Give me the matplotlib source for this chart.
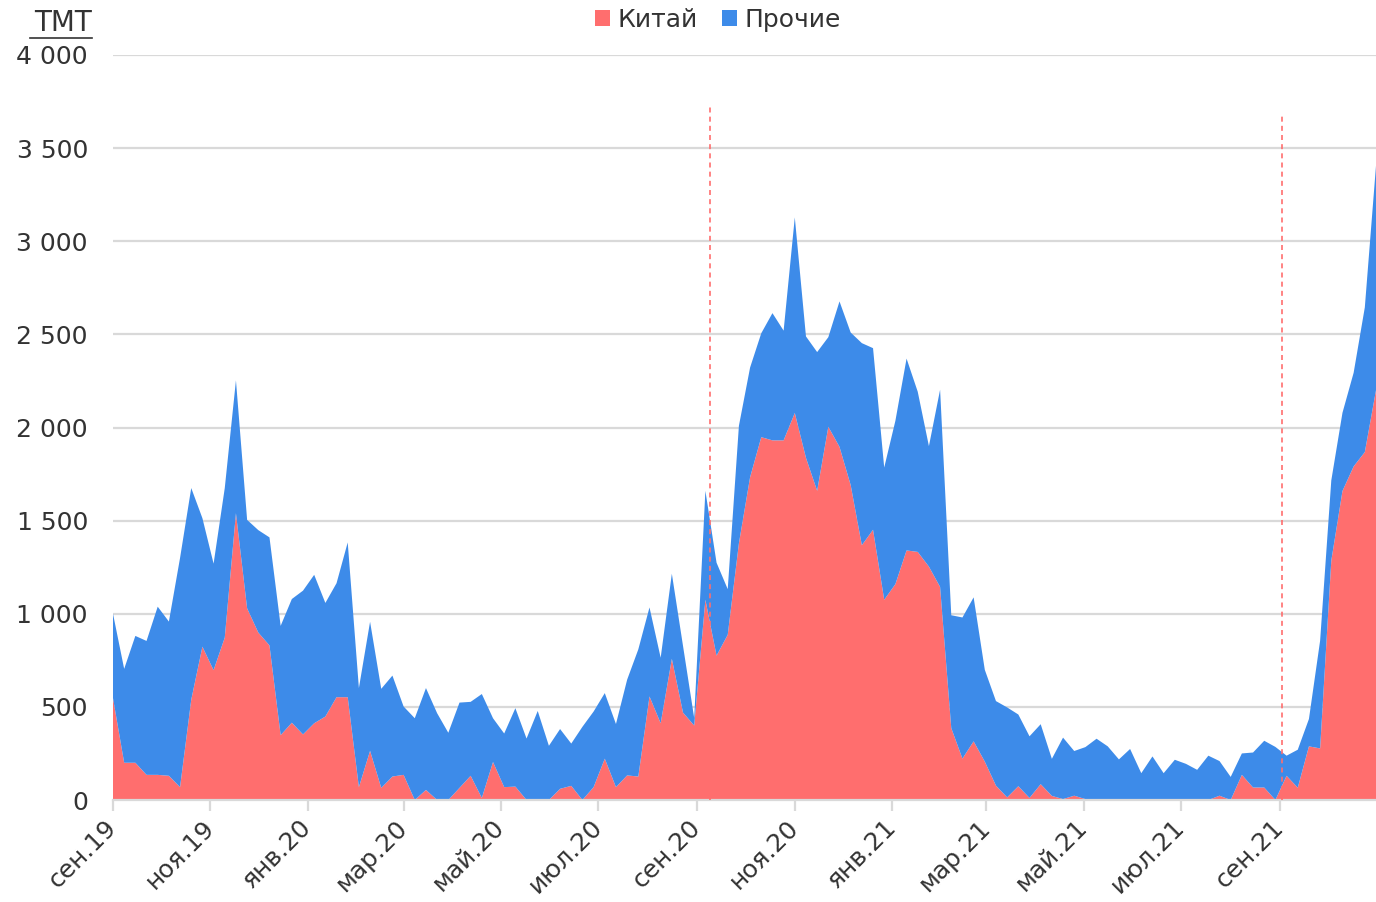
import numpy as np
import pandas as pd
import matplotlib
matplotlib.use("Agg")
import matplotlib.pyplot as plt
from matplotlib.lines import Line2D
from matplotlib.ticker import FuncFormatter

plt.rcParams['font.family'] = ['DejaVu Sans']

# weekly data, тыс. тонн
weeks = pd.date_range('2019-09-01', periods=114, freq='7D')

china = [547, 200, 200, 135, 135, 130, 69, 538, 823, 697,
         872, 1540, 1029, 899, 830, 348, 415, 352, 412, 448,
         552, 552, 69, 264, 65, 126, 135, 0, 54, 0,
         0, 65, 130, 11, 204, 69, 72, 0, 0, 0,
         60, 76, 0, 69, 222, 69, 132, 126, 556, 412,
         758, 469, 400, 1075, 775, 887, 1378, 1733, 1948, 1931,
         1931, 2078, 1837, 1660, 2004, 1896, 1691, 1368, 1451, 1075,
         1159, 1340, 1332, 1253, 1144, 386, 222, 315, 206, 77,
         14, 74, 11, 85, 22, 5, 23, 5, 2, 5,
         4, 2, 0, 0, 0, 0, 0, 0, 0, 23,
         0, 135, 67, 67, 0, 130, 66, 288, 277, 1285,
         1659, 1791, 1868, 2200]

other = [453, 504, 681, 719, 903, 828, 1231, 1137, 690, 572,
         803, 713, 475, 550, 580, 587, 664, 772, 797, 610,
         612, 831, 532, 693, 532, 542, 367, 439, 547, 466,
         361, 458, 397, 558, 235, 288, 421, 330, 478, 291,
         321, 227, 393, 406, 352, 339, 514, 683, 478, 352,
         457, 358, 40, 585, 499, 245, 631, 589, 558, 683,
         589, 1050, 652, 745, 481, 781, 819, 1085, 975, 710,
         877, 1030, 860, 647, 1059, 606, 758, 773, 493, 454,
         483, 385, 331, 322, 199, 330, 240, 279, 327, 283,
         214, 272, 144, 234, 144, 216, 194, 162, 238, 186,
         124, 115, 188, 251, 285, 108, 204, 147, 578, 431,
         420, 503, 777, 1205]

tick_dates = pd.to_datetime(['2019-09-01', '2019-11-01', '2020-01-01', '2020-03-01',
                             '2020-05-01', '2020-07-01', '2020-09-01', '2020-11-01',
                             '2021-01-01', '2021-03-01', '2021-05-01', '2021-07-01',
                             '2021-09-01'])
tick_labels = ['сен.19', 'ноя.19', 'янв.20', 'мар.20', 'май.20', 'июл.20', 'сен.20',
               'ноя.20', 'янв.21', 'мар.21', 'май.21', 'июл.21', 'сен.21']

# season markers (dashed red lines)
markers = pd.to_datetime(['2020-09-09', '2021-09-02'])
marker_tops = [3730, 3680]

RED = '#ff6e6e'
BLUE = '#3d8be9'
GRID = '#d9d9d9'

fig = plt.figure(figsize=(13.76, 9.02), dpi=100)
ax = fig.add_axes([113/1376, 102/902, 1 - 113/1376, 745/902])

ax.stackplot(weeks, china, other, colors=[RED, BLUE], labels=['Китай', 'Прочие'],
             linewidth=0)

for d, top in zip(markers, marker_tops):
    ax.plot([d, d], [0, top], color=RED, lw=1.2, ls=(0, (3, 2.5)), clip_on=False, zorder=3)

ax.set_xlim(weeks[0], weeks[-1])
ax.set_ylim(0, 4000)
ax.set_yticks(np.arange(0, 4001, 500))
ax.yaxis.set_major_formatter(FuncFormatter(lambda v, p: f'{int(v):,}'.replace(',', ' ')))
ax.grid(axis='y', color=GRID, lw=1.6)
ax.set_axisbelow(True)

ax.set_xticks(tick_dates)
ax.set_xticklabels(tick_labels, rotation=45, ha='right', va='center', rotation_mode='anchor')
ax.tick_params(axis='x', length=8, width=1.6, color=GRID, labelsize=18, pad=9, labelcolor='#333333')
ax.tick_params(axis='y', length=0, labelsize=18, pad=18, labelcolor='#333333')

for s in ['top', 'right', 'left']:
    ax.spines[s].set_visible(False)
ax.spines['bottom'].set_color(GRID)
ax.spines['bottom'].set_linewidth(1.6)

fig.text(92/1376, 1 - 23/902, 'ТМТ', ha='right', va='center', fontsize=20, color='#333333')
fig.add_artist(Line2D([30/1376, 92/1376], [1 - 38/902, 1 - 38/902], color='#333333', lw=1.2))

ax.legend(loc='center', bbox_to_anchor=(718/1376, 1 - 20/902), bbox_transform=fig.transFigure,
          ncol=2, frameon=False, fontsize=18, handlelength=0.6, handleheight=0.6,
          handletextpad=0.3, columnspacing=1.0, labelcolor='#333333')

fig.savefig('out.png', dpi=100)
